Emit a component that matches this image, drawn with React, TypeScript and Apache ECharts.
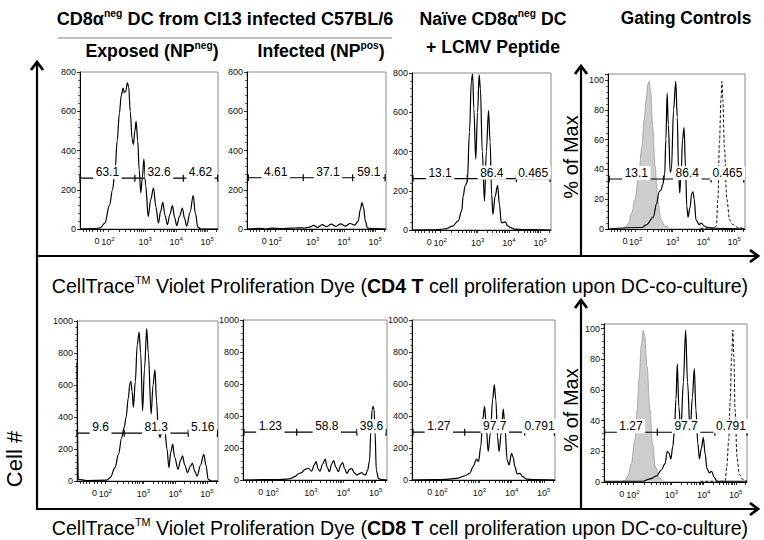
import React, { useEffect, useRef } from 'react';
import * as echarts from 'echarts';

// ---------- axis ticks (display units: 10^3 = 3, 10^4 = 4, 10^5 = 5) ----------
const xTickValues = [1.45, 1.8, 3, 4, 5];
const xTickLabels = ['0', '10^2', '10^3', '10^4', '10^5'];
const xMinorTicks = [1.0, 1.1, 1.2, 1.3, 1.45, 1.55, 1.65, 1.8, 2.16, 2.37, 2.52, 2.64, 2.73, 2.81, 2.88, 2.95, 3.0,
  3.3, 3.48, 3.6, 3.7, 3.78, 3.85, 3.9, 3.95, 4.0, 4.3, 4.48, 4.6, 4.7, 4.78, 4.85, 4.9, 4.95, 5.0, 5.3];

// ---------- CD4 T cells (top row) ----------
const cd4Exposed = [[0.9,0],[1.4,2],[1.55,6],[1.7,30],[1.85,120],[1.95,200],[2.03,300],[2.1,450],[2.17,590],[2.23,680],[2.29,718],[2.33,695],[2.37,700],[2.43,745],[2.47,725],[2.52,600],[2.58,460],[2.62,430],[2.67,500],[2.71,548],[2.76,450],[2.81,300],[2.86,185],[2.91,260],[2.96,356],[3.02,220],[3.1,64],[3.18,150],[3.27,208],[3.35,110],[3.43,30],[3.5,90],[3.57,136],[3.64,70],[3.72,22],[3.8,75],[3.88,119],[3.95,60],[4.02,17],[4.11,65],[4.2,107],[4.27,55],[4.34,15],[4.45,85],[4.55,170],[4.62,80],[4.7,10],[4.8,0],[5.35,0]];
const cd4ExposedGate = [0.9, 2.67, 4.23, 5.34];
const cd4ExposedGateLevel = 259;
const cd4ExposedPct = ['63.1', '32.6', '4.62'];

const cd4Infected = [[0.9,0],[1.3,3],[1.5,0],[1.7,4],[2.0,2],[2.3,4],[2.55,6],[2.75,5],[2.9,10],[3.04,18],[3.15,8],[3.31,22],[3.45,12],[3.6,25],[3.75,14],[3.9,26],[4.05,15],[4.2,28],[4.35,20],[4.46,40],[4.53,100],[4.58,135],[4.63,110],[4.69,40],[4.76,5],[4.9,2],[5.35,0]];
const cd4InfectedGate = [0.94, 2.7, 4.28, 5.32];
const cd4InfectedGateLevel = 261;
const cd4InfectedPct = ['4.61', '37.1', '59.1'];

const cd4Naive = [[0.9,0],[1.6,1],[1.8,3],[2.0,7],[2.2,20],[2.38,46],[2.49,97],[2.54,174],[2.6,225],[2.67,245],[2.74,500],[2.8,760],[2.84,795],[2.88,620],[2.94,361],[3.0,600],[3.05,790],[3.09,720],[3.15,400],[3.22,148],[3.28,400],[3.35,608],[3.4,450],[3.45,180],[3.49,80],[3.56,170],[3.64,228],[3.7,130],[3.76,37],[3.82,38],[3.89,42],[3.95,22],[4.05,12],[4.2,4],[4.5,2],[5.35,0]];
const cd4NaiveGate = [0.93, 2.67, 4.24, 5.32];
const cd4NaiveGateLevel = 262;
const cd4NaivePct = ['13.1', '86.4', '0.465'];

const cd4CtrlUnstained = [[1.4,0],[1.46,1],[1.57,4],[1.67,11],[1.78,20],[1.89,35],[2.0,55],[2.07,73],[2.14,87],[2.19,97],[2.24,99],[2.29,91],[2.35,69],[2.43,42],[2.51,20],[2.62,6],[2.75,2],[2.91,0]];
const cd4CtrlSample = [[0.9,0],[2.0,1],[2.16,3],[2.37,8],[2.48,17],[2.56,25],[2.62,26],[2.68,30],[2.74,36],[2.78,60],[2.82,91],[2.86,70],[2.92,38],[2.96,40],[3.03,80],[3.1,99],[3.15,75],[3.19,40],[3.23,24],[3.28,40],[3.32,60],[3.37,68],[3.42,40],[3.46,15],[3.5,8],[3.56,14],[3.62,24],[3.66,25],[3.7,20],[3.76,6],[3.86,3],[3.93,4],[4.02,2],[4.15,1],[4.4,0.5],[5.35,0]];
const cd4CtrlUndivided = [[3.9,0.5],[4.2,0.5],[4.3,0],[4.42,2],[4.47,20],[4.52,58],[4.57,87],[4.6,99],[4.63,87],[4.68,55],[4.76,20],[4.85,6],[4.95,3],[5.12,1],[5.35,0]];
const cd4CtrlGate = [0.94, 2.7, 4.25, 5.31];
const cd4CtrlGateLevel = 33.5;
const cd4CtrlPct = ['13.1', '86.4', '0.465'];

// ---------- CD8 T cells (bottom row) ----------
const cd8Exposed = [[0.9,740],[0.92,740],[0.94,10],[1.2,3],[1.84,5],[1.95,21],[2.1,84],[2.21,167],[2.31,272],[2.39,335],[2.45,400],[2.52,520],[2.57,610],[2.6,623],[2.64,560],[2.68,460],[2.74,620],[2.8,850],[2.86,931],[2.91,800],[2.97,439],[3.03,700],[3.1,952],[3.15,800],[3.24,418],[3.3,600],[3.36,694],[3.41,500],[3.47,300],[3.52,272],[3.6,330],[3.67,320],[3.74,200],[3.8,84],[3.86,180],[3.92,230],[3.98,150],[4.09,73],[4.17,130],[4.23,157],[4.3,100],[4.39,52],[4.47,90],[4.54,111],[4.62,60],[4.69,30],[4.8,100],[4.9,167],[4.97,100],[5.04,10],[5.15,0],[5.35,0]];
const cd8ExposedGate = [0.9, 2.39, 4.41, 5.33];
const cd8ExposedGateLevel = 299;
const cd8ExposedPct = ['9.6', '81.3', '5.16'];

const cd8Infected = [[0.9,0],[1.5,2],[2.0,3],[2.25,5],[2.35,8],[2.5,21],[2.61,38],[2.71,46],[2.82,67],[2.92,73],[3.02,55],[3.1,94],[3.16,115],[3.22,70],[3.28,55],[3.36,100],[3.44,130],[3.5,80],[3.57,52],[3.64,100],[3.7,121],[3.77,80],[3.85,52],[3.92,95],[3.98,109],[4.04,70],[4.11,42],[4.19,65],[4.26,73],[4.34,45],[4.42,31],[4.5,40],[4.57,46],[4.63,35],[4.68,31],[4.75,60],[4.81,120],[4.85,300],[4.89,440],[4.92,460],[4.95,440],[4.98,300],[5.02,60],[5.09,8],[5.2,2],[5.35,0]];
const cd8InfectedGate = [0.93, 2.56, 4.42, 5.32];
const cd8InfectedGateLevel = 299;
const cd8InfectedPct = ['1.23', '58.8', '39.6'];

const cd8Naive = [[0.9,0],[1.6,2],[1.97,4],[2.28,10],[2.54,25],[2.7,42],[2.8,84],[2.91,130],[2.97,115],[3.04,209],[3.1,377],[3.16,460],[3.21,335],[3.27,178],[3.34,293],[3.41,502],[3.46,596],[3.51,500],[3.56,272],[3.61,178],[3.68,300],[3.74,443],[3.79,335],[3.86,126],[3.92,94],[4.0,167],[4.05,140],[4.1,84],[4.17,38],[4.26,42],[4.34,21],[4.47,5],[4.7,2],[5.35,0]];
const cd8NaiveGate = [0.93, 2.54, 4.41, 5.33];
const cd8NaiveGateLevel = 299;
const cd8NaivePct = ['1.27', '97.7', '0.791'];

const cd8CtrlUnstained = [[1.4,0],[1.55,1],[1.65,4],[1.75,12],[1.86,27],[1.93,47],[1.99,67],[2.06,89],[2.12,99],[2.17,95],[2.24,75],[2.33,47],[2.41,25],[2.5,10],[2.61,3],[2.74,0.5],[2.85,0]];
const cd8CtrlSample = [[0.9,0.5],[2.12,0.5],[2.33,2],[2.54,4],[2.69,8],[2.8,12],[2.87,20],[2.92,19],[2.98,15],[3.04,23],[3.09,33],[3.14,54],[3.18,77],[3.23,49],[3.29,32],[3.37,65],[3.44,99],[3.5,65],[3.58,32],[3.65,55],[3.71,74],[3.76,47],[3.82,25],[3.87,15],[3.93,22],[3.99,29],[4.05,18],[4.1,9],[4.18,6],[4.25,7],[4.33,3],[4.41,0.5],[5.35,0.5]];
const cd8CtrlUndivided = [[3.9,0.5],[4.67,0.5],[4.72,10],[4.78,27],[4.83,54],[4.87,82],[4.91,99],[4.94,82],[4.98,47],[5.04,16],[5.11,5],[5.19,2],[5.35,0.5]];
const cd8CtrlGate = [0.92, 2.56, 4.35, 5.35];
const cd8CtrlGateLevel = 32.4;
const cd8CtrlPct = ['1.27', '97.7', '0.791'];

// ---------- panel layout ----------
const layout = [
  { left: 80, top: 72, width: 138, height: 157 },
  { left: 247, top: 72, width: 139, height: 157 },
  { left: 412, top: 73, width: 139, height: 157 },
  { left: 608, top: 74, width: 137, height: 155 },
  { left: 77, top: 321, width: 141, height: 160 },
  { left: 243, top: 320, width: 144, height: 160 },
  { left: 412, top: 320, width: 143, height: 160 },
  { left: 604, top: 324, width: 143, height: 158 },
];

const panels = [
  { yMax: 800, yStep: 200, curves: [{ data: cd4Exposed, kind: 'solid' }], gate: cd4ExposedGate, level: cd4ExposedGateLevel, pct: cd4ExposedPct },
  { yMax: 800, yStep: 200, curves: [{ data: cd4Infected, kind: 'solid' }], gate: cd4InfectedGate, level: cd4InfectedGateLevel, pct: cd4InfectedPct },
  { yMax: 800, yStep: 200, curves: [{ data: cd4Naive, kind: 'solid' }], gate: cd4NaiveGate, level: cd4NaiveGateLevel, pct: cd4NaivePct },
  { yMax: 104, yStep: 20, curves: [{ data: cd4CtrlUnstained, kind: 'fill' }, { data: cd4CtrlSample, kind: 'solid' }, { data: cd4CtrlUndivided, kind: 'dash' }], gate: cd4CtrlGate, level: cd4CtrlGateLevel, pct: cd4CtrlPct },
  { yMax: 1000, yStep: 200, curves: [{ data: cd8Exposed, kind: 'solid' }], gate: cd8ExposedGate, level: cd8ExposedGateLevel, pct: cd8ExposedPct },
  { yMax: 1000, yStep: 200, curves: [{ data: cd8Infected, kind: 'solid' }], gate: cd8InfectedGate, level: cd8InfectedGateLevel, pct: cd8InfectedPct },
  { yMax: 1000, yStep: 200, curves: [{ data: cd8Naive, kind: 'solid' }], gate: cd8NaiveGate, level: cd8NaiveGateLevel, pct: cd8NaivePct },
  { yMax: 103, yStep: 20, curves: [{ data: cd8CtrlUnstained, kind: 'fill' }, { data: cd8CtrlSample, kind: 'solid' }, { data: cd8CtrlUndivided, kind: 'dash' }], gate: cd8CtrlGate, level: cd8CtrlGateLevel, pct: cd8CtrlPct },
];

const FONT = "'Liberation Sans', Arial, sans-serif";

function buildOption() {
  const grid: any[] = [];
  const xAxis: any[] = [];
  const yAxis: any[] = [];
  const series: any[] = [];

  panels.forEach((p, i) => {
    const g = layout[i];
    grid.push({ left: g.left, top: g.top, width: g.width, height: g.height, show: true, borderColor: '#8a8a8a', borderWidth: 1, backgroundColor: 'transparent' });
    xAxis.push({
      type: 'value', gridIndex: i, min: 0.9, max: 5.35,
      axisLine: { show: true, onZero: false, lineStyle: { color: '#000', width: 1 } },
      splitLine: { show: false },
      axisTick: { show: true, customValues: xMinorTicks, length: 3, lineStyle: { color: '#000', width: 0.8 } },
      axisLabel: {
        customValues: xTickValues, margin: 7, color: '#111', fontSize: 9, fontFamily: FONT,
        formatter: (v: number) => {
          const k = xTickValues.findIndex((t) => Math.abs(t - v) < 1e-6);
          if (k < 0) return '';
          const s = xTickLabels[k];
          if (s.indexOf('^') >= 0) {
            const [b, e] = s.split('^');
            return `{n|${b}}{s|${e}}`;
          }
          return `{n|${s}}`;
        },
        rich: {
          n: { fontSize: 9, fontFamily: FONT, color: '#111' },
          s: { fontSize: 6, fontFamily: FONT, color: '#111', verticalAlign: 'top', padding: [0, 0, 5, 0] },
        },
      },
    });
    yAxis.push({
      type: 'value', gridIndex: i, min: 0, max: p.yMax, interval: p.yStep,
      axisLine: { show: true, onZero: false, lineStyle: { color: '#000', width: 1 } },
      splitLine: { show: false },
      axisTick: { show: true, length: 3, lineStyle: { color: '#000', width: 0.8 } },
      minorTick: { show: true, splitNumber: 5, length: 2, lineStyle: { color: '#000', width: 0.6 } },
      axisLabel: {
        margin: 4, color: '#111', fontSize: 9, fontFamily: FONT,
        formatter: (v: number) => (v % p.yStep === 0 ? String(v) : ''),
      },
    });

    p.curves.forEach((c) => {
      const base: any = {
        type: 'line', xAxisIndex: i, yAxisIndex: i, data: c.data, showSymbol: false,
        smooth: 0.35, smoothMonotone: 'x', clip: true, silent: true, z: 2,
      };
      if (c.kind === 'fill') {
        base.lineStyle = { color: '#9c9c9c', width: 0.8 };
        base.areaStyle = { color: '#cdcdcd', opacity: 1 };
        base.z = 1;
      } else if (c.kind === 'dash') {
        base.lineStyle = { color: '#111', width: 1, type: [3, 2] };
      } else {
        base.lineStyle = { color: '#000', width: 1.2 };
      }
      series.push(base);
    });

    // gate bracket
    series.push({
      type: 'line', xAxisIndex: i, yAxisIndex: i, silent: true, z: 3,
      data: p.gate.map((b) => [b, p.level]),
      showSymbol: true, showAllSymbol: true, symbol: 'rect', symbolSize: [1.2, 7],
      itemStyle: { color: '#000' }, lineStyle: { color: '#000', width: 1.1 },
    });
    // gate percentages: white boxes carrying the value text
    const mids = p.pct.map((t, k) => [(p.gate[k] + p.gate[k + 1]) / 2, p.level, t]);
    series.push({
      type: 'scatter', xAxisIndex: i, yAxisIndex: i, silent: true, z: 5,
      data: mids, symbol: 'rect',
      symbolSize: (v: any) => [String(v[2]).length * 6.6 + 2, 14],
      symbolOffset: [0, -6],
      itemStyle: { color: '#ffffff', opacity: 1 },
      label: {
        show: true, position: 'inside',
        formatter: (q: any) => q.value[2],
        color: '#000', fontSize: 12, fontFamily: FONT, opacity: 1,
      },
    });
  });

  const stroke = '#000';
  const ln = (x1: number, y1: number, x2: number, y2: number, w = 2.2, c = stroke) => ({
    type: 'line', silent: true, shape: { x1, y1, x2, y2 }, style: { stroke: c, lineWidth: w },
  });
  const up = (x: number, y: number) => ({
    type: 'polyline', silent: true, shape: { points: [[x - 6, y + 8], [x, y], [x + 6, y + 8]] },
    style: { stroke, lineWidth: 2.8, fill: null, lineJoin: 'miter' },
  });
  const right = (x: number, y: number) => ({
    type: 'polyline', silent: true, shape: { points: [[x - 8, y - 6], [x, y], [x - 8, y + 6]] },
    style: { stroke, lineWidth: 2.8, fill: null, lineJoin: 'miter' },
  });
  const txt = (x: number, y: number, text: string, rich: any, extra: any = {}) => ({
    type: 'text', x, y, silent: true, scaleX: extra.scaleX ?? 0.93, rotation: extra.rotation ?? 0,
    style: {
      text, rich, fill: '#000', textAlign: 'center', textVerticalAlign: 'middle',
      align: 'center', verticalAlign: 'middle', font: extra.font ?? `bold 19px ${FONT}`,
    },
  });
  const hdrRich = {
    b: { fontWeight: 'bold', fontSize: 19, fontFamily: FONT, lineHeight: 22 },
    s: { fontWeight: 'bold', fontSize: 11, fontFamily: FONT, verticalAlign: 'top', lineHeight: 22, padding: [0, 0, 8, 0] },
  };
  const ttlRich = {
    r: { fontSize: 20, fontFamily: FONT, lineHeight: 24 },
    b: { fontSize: 20, fontWeight: 'bold', fontFamily: FONT, lineHeight: 24 },
    s: { fontSize: 11, fontFamily: FONT, verticalAlign: 'top', lineHeight: 24, padding: [0, 0, 9, 0] },
  };

  const graphic = [
    ln(37, 510, 37, 64), up(37, 62),
    ln(36, 256, 756, 256), right(758, 256),
    ln(581, 256, 581, 68), up(581, 66),
    ln(36, 509, 756, 509), right(758, 509),
    ln(581, 509, 581, 302), up(581, 300),
    ln(58, 38, 392, 38, 1.5, '#a8a8a8'),
    txt(225, 18, '{b|CD8α}{s|neg}{b| DC from Cl13 infected C57BL/6}', hdrRich, { scaleX: 0.95 }),
    txt(152, 50, '{b|Exposed (NP}{s|neg}{b|)}', hdrRich),
    txt(321, 50, '{b|Infected (NP}{s|pos}{b|)}', hdrRich),
    txt(493, 18, '{b|Naïve CD8α}{s|neg}{b| DC}', hdrRich),
    txt(493, 46, '{b|+ LCMV Peptide}', hdrRich),
    txt(686, 18, '{b|Gating Controls}', hdrRich, { scaleX: 0.91 }),
    txt(400, 286, '{r|CellTrace}{s|TM}{r| Violet Proliferation Dye (}{b|CD4 T}{r| cell proliferation upon DC-co-culture)}', ttlRich, { scaleX: 0.98 }),
    txt(400, 528, '{r|CellTrace}{s|TM}{r| Violet Proliferation Dye (}{b|CD8 T}{r| cell proliferation upon DC-co-culture)}', ttlRich, { scaleX: 0.98 }),
    txt(571, 157, '% of Max', null, { font: `20px ${FONT}`, rotation: Math.PI / 2, scaleX: 1 }),
    txt(571, 410, '% of Max', null, { font: `20px ${FONT}`, rotation: Math.PI / 2, scaleX: 1 }),
    txt(14, 459, 'Cell #', null, { font: `22px ${FONT}`, rotation: Math.PI / 2, scaleX: 1 }),
  ];

  return {
    animation: false,
    backgroundColor: '#fff',
    textStyle: { fontFamily: FONT },
    grid, xAxis, yAxis, series, graphic,
  };
}

export default function App() {
  const ref = useRef<HTMLDivElement>(null);
  useEffect(() => {
    if (!ref.current) return;
    const chart = echarts.init(ref.current, undefined, { renderer: 'svg' });
    chart.setOption(buildOption() as any);
    return () => chart.dispose();
  }, []);
  return <div ref={ref} style={{ position: 'absolute', left: 0, top: 0, width: 764, height: 540, background: '#fff' }} />;
}
